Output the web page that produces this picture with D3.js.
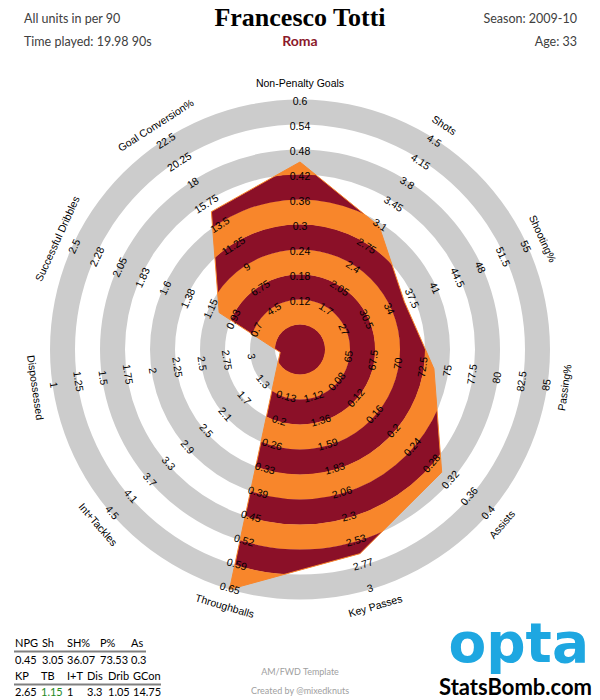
<!DOCTYPE html>
<html><head><meta charset="utf-8">
<script src="https://cdn.jsdelivr.net/npm/d3@7"></script>
<style>body{margin:0;background:#fff}svg{display:block}</style>
</head><body>
<svg id="chart" width="600" height="700"></svg>
<script>
// ---------- DATA ----------
const categories = ["Non-Penalty Goals","Shots","Shooting%","Passing%","Assists","Key Passes","Throughballs","Int+Tackles","Dispossessed","Successful Dribbles","Goal Conversion%"];
const values = [0.45, 3.05, 36.07, 73.53, 0.3, 2.65, 1.15, 1, 3.3, 1.05, 14.75];
const axisMin = [0, 1, 20, 60, 0, 0.65, 0, 0.5, 3.5, 0.25, 0];
const axisMax = [0.6, 4.5, 55, 85, 0.4, 3, 0.65, 4.5, 1, 2.5, 22.5];
const tickLabels = [
  ["0.12","0.18","0.24","0.3","0.36","0.42","0.48","0.54","0.6"],
  ["1.7","2.05","2.4","2.75","3.1","3.45","3.8","4.15","4.5"],
  ["27","30.5","34","37.5","41","44.5","48","51.5","55"],
  ["65","67.5","70","72.5","75","77.5","80","82.5","85"],
  ["0.08","0.12","0.16","0.2","0.24","0.28","0.32","0.36","0.4"],
  ["1.12","1.36","1.59","1.83","2.06","2.3","2.53","2.77","3"],
  ["0.13","0.2","0.26","0.33","0.39","0.45","0.52","0.59","0.65"],
  ["1.3","1.7","2.1","2.5","2.9","3.3","3.7","4.1","4.5"],
  ["3","2.75","2.5","2.25","2","1.75","1.5","1.25","1"],
  ["0.7","0.93","1.15","1.38","1.6","1.83","2.05","2.28","2.5"],
  ["4.5","6.75","9","11.25","13.5","15.75","18","20.25","22.5"]
];
const ringCount = 10;
const tableHeaders1 = ["NPG","Sh","SH%","P%","As"];
const tableValues1 = ["0.45","3.05","36.07","73.53","0.3"];
const tableHeaders2 = ["KP","TB","I+T","Dis","Drib","GCon"];
const tableValues2 = ["2.65","1.15","1","3.3","1.05","14.75"];
const highlighted2 = [false, true, false, false, false, false];

// ---------- STYLE / LAYOUT ----------
const cx = 300, cy = 349.5, R = 250;
const DARK = "#8b1028", ORANGE = "#f8862b", GRAY = "#cccccc";
const svg = d3.select("#chart");
const n = categories.length;
const angle = i => i * 2 * Math.PI / n;
const ringScale = d3.scaleLinear().domain([0, ringCount]).range([0, R]);
const scales = categories.map((c, i) => d3.scaleLinear().domain([axisMin[i], axisMax[i]]).range([0, R]).clamp(true));

const g = svg.append("g").attr("transform", `translate(${cx},${cy})`);
const arc = d3.arc().startAngle(0).endAngle(2 * Math.PI);
const rings = d3.range(ringCount);

// background gray rings
g.append("g").selectAll("path").data(rings.filter(k => k % 2 === 1)).join("path")
  .attr("d", k => arc({innerRadius: ringScale(k), outerRadius: ringScale(k + 1)}))
  .attr("fill", GRAY);

// polygon clip
const radial = d3.lineRadial()
  .angle((d, i) => angle(i))
  .radius((d, i) => scales[i](d))
  .curve(d3.curveLinearClosed);
const polyPath = radial(values);
svg.append("defs").append("clipPath").attr("id", "polyClip")
  .append("path").attr("d", polyPath);

g.append("g").attr("clip-path", "url(#polyClip)")
  .selectAll("path").data(rings).join("path")
  .attr("d", k => arc({innerRadius: ringScale(k), outerRadius: ringScale(k + 1) + 0.3}))
  .attr("fill", k => k % 2 === 0 ? DARK : ORANGE);

g.append("path").attr("d", polyPath).attr("fill", "none")
  .attr("stroke", ORANGE).attr("stroke-width", 1);

// labels
function rot(i) {
  const d = angle(i) * 180 / Math.PI;
  return d <= 90 ? d : (d < 270 ? d - 180 : d - 360);
}
const labelFont = "'Liberation Sans', Arial, sans-serif";
categories.forEach((cat, i) => {
  const a = angle(i), r0 = rot(i);
  tickLabels[i].forEach((t, j) => {
    const r = ringScale(j + 2) - 1.5;
    g.append("text")
      .attr("transform", `translate(${r * Math.sin(a)},${-r * Math.cos(a)}) rotate(${r0})`)
      .attr("text-anchor", "middle").attr("dominant-baseline", "central")
      .attr("font-family", labelFont).attr("font-size", 10.5).attr("fill", "#000")
      .text(t);
  });
  const rt = R + 17;
  g.append("text")
    .attr("transform", `translate(${rt * Math.sin(a)},${-rt * Math.cos(a)}) rotate(${r0})`)
    .attr("text-anchor", "middle").attr("dominant-baseline", "central")
    .attr("font-family", labelFont).attr("font-size", 10.5).attr("fill", "#000")
    .text(cat);
});

// ---------- HEADER ----------
const sans = "Lato, 'Open Sans', sans-serif";
svg.append("text").attr("x", 300).attr("y", 26).attr("text-anchor", "middle")
  .attr("font-family", "'Liberation Serif', 'DejaVu Serif', serif").attr("font-weight", "bold")
  .attr("font-size", 26).attr("fill", "#000").text("Francesco Totti");
svg.append("text").attr("x", 300).attr("y", 46).attr("text-anchor", "middle")
  .attr("font-family", sans).attr("font-weight", "bold")
  .attr("font-size", 14).attr("fill", "#8b1a2b").text("Roma");
const hdr = [
  {x: 24, y: 23, a: "start", t: "All units in per 90"},
  {x: 24, y: 46, a: "start", t: "Time played: 19.98 90s"},
  {x: 577, y: 23, a: "end", t: "Season: 2009-10"},
  {x: 577, y: 46, a: "end", t: "Age: 33"}
];
svg.selectAll("text.hdr").data(hdr).join("text").attr("class", "hdr")
  .attr("x", d => d.x).attr("y", d => d.y).attr("text-anchor", d => d.a)
  .attr("font-family", sans).attr("font-size", 12.5).attr("fill", "#404040")
  .text(d => d.t);

// ---------- TABLE ----------
const col1 = [15, 42, 67, 100, 131];
const col2 = [15, 41, 67, 87, 108, 133];
function tRow(arr, xs, y, colors) {
  svg.append("g").selectAll("text").data(arr).join("text")
    .attr("x", (d, i) => xs[i]).attr("y", y)
    .attr("font-family", sans).attr("font-size", 11)
    .attr("fill", (d, i) => colors && colors[i] ? "#1e8a1e" : "#000")
    .text(d => d);
}
tRow(tableHeaders1, col1, 647);
svg.append("line").attr("x1", 14).attr("x2", 146).attr("y1", 651.5).attr("y2", 651.5)
  .attr("stroke", "#808080").attr("stroke-width", 2);
tRow(tableValues1, col1, 664);
tRow(tableHeaders2, col2, 680);
svg.append("line").attr("x1", 14).attr("x2", 161).attr("y1", 684.5).attr("y2", 684.5)
  .attr("stroke", "#808080").attr("stroke-width", 2);
tRow(tableValues2, col2, 696, highlighted2);

// ---------- FOOTER ----------
svg.append("text").attr("x", 300).attr("y", 675).attr("text-anchor", "middle")
  .attr("font-family", sans).attr("font-size", 9).attr("fill", "#a0a0a0").text("AM/FWD Template");
svg.append("text").attr("x", 300).attr("y", 694).attr("text-anchor", "middle")
  .attr("font-family", sans).attr("font-size", 9).attr("fill", "#a0a0a0").text("Created by @mixedknuts");
svg.append("text").attr("x", 589).attr("y", 662).attr("text-anchor", "end")
  .attr("font-family", "'DejaVu Sans', sans-serif").attr("font-weight", "bold")
  .attr("font-size", 55).attr("fill", "#1ea7e1").text("opta");
svg.append("text").attr("x", 592).attr("y", 695).attr("text-anchor", "end")
  .attr("font-family", sans).attr("font-weight", "bold")
  .attr("font-size", 22).attr("fill", "#000").text("StatsBomb.com");
</script>
</body></html>
